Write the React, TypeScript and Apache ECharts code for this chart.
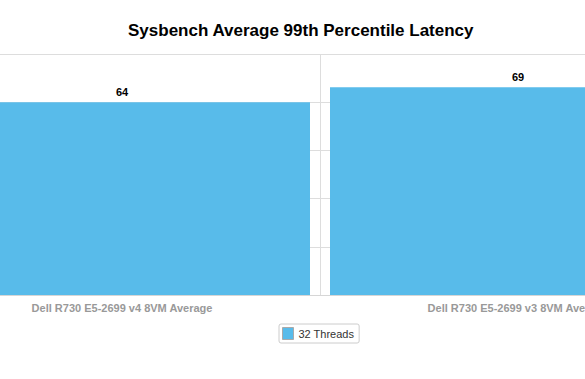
import React, { useEffect, useRef } from "react";
import * as echarts from "echarts";

const categories = ["Dell R730 E5-2699 v4 8VM Average", "Dell R730 E5-2699 v3 8VM Average"];
const seriesName = "32 Threads";
const values = [64, 69];

export default function App() {
  const ref = useRef<HTMLDivElement>(null);
  useEffect(() => {
    if (!ref.current) return;
    const chart = echarts.init(ref.current, null, { renderer: "svg" });
    chart.setOption({
      animation: false,
      backgroundColor: "#fff",
      title: {
        text: "Sysbench Average 99th Percentile Latency",
        left: 199,
        top: 17,
        textStyle: { fontFamily: "Liberation Sans", fontSize: 17, fontWeight: "bold", color: "#000" },
      },
      legend: {
        data: [{ name: seriesName, icon: "rect" }],
        left: 355,
        top: 324,
        borderColor: "#cccccc",
        borderWidth: 1,
        borderRadius: 2,
        padding: [3, 5, 3, 3],
        itemWidth: 11,
        itemHeight: 12,
        itemGap: 5,
        itemStyle: { borderColor: "#aaaaaa", borderWidth: 1 },
        textStyle: { fontFamily: "Liberation Sans", fontSize: 11, color: "#333" },
      },
      grid: { left: 0, right: 0, top: 54, bottom: 84, containLabel: false },
      xAxis: {
        type: "category",
        data: categories,
        axisLine: { lineStyle: { color: "#d6d6d6" } },
        axisTick: { show: false },
        splitLine: { show: true, lineStyle: { color: "#dddddd" } },
        axisLabel: {
          margin: 7,
          interval: 0,
          fontFamily: "Liberation Sans",
          fontSize: 11,
          fontWeight: "bold",
          color: "#999999",
        },
      },
      yAxis: {
        type: "value",
        min: 0,
        max: 80,
        interval: 16,
        axisLabel: { show: false },
        axisLine: { show: false },
        axisTick: { show: false },
        splitLine: { lineStyle: { color: "#dddddd" } },
      },
      series: [
        {
          name: seriesName,
          type: "bar",
          barWidth: 376,
          itemStyle: { color: "#58BBEA" },
          label: {
            show: true,
            position: "top",
            distance: 5,
            fontFamily: "Liberation Sans",
            fontSize: 11,
            fontWeight: "bold",
            color: "#000",
          },
          data: values,
        },
      ],
    });
    return () => chart.dispose();
  }, []);
  return (
    <div style={{ width: 585, height: 379, position: "absolute", left: 0, top: 0, overflow: "hidden", background: "#fff" }}>
      <div ref={ref} style={{ width: 792, height: 379, position: "absolute", left: -76, top: 0 }} />
    </div>
  );
}
